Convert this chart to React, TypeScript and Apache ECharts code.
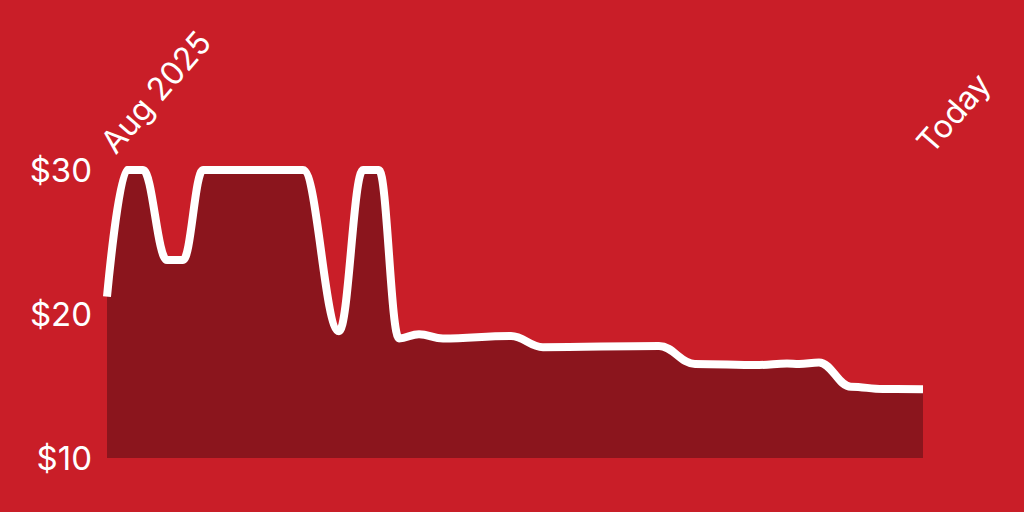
import { useEffect, useRef } from "react";
import * as echarts from "echarts";

const DAYS = [0, 5, 9, 15, 19, 24, 49, 58, 64, 68, 73, 78, 84, 101, 109, 138, 147, 163, 170, 173, 178, 186, 194, 204];
const PRICES = [21.2, 30, 30, 23.75, 23.75, 30, 30, 18.8, 30, 30, 18.3, 18.6, 18.3, 18.47, 17.69, 17.78, 16.53, 16.46, 16.57, 16.53, 16.64, 14.95, 14.79, 14.77];
const LAST_DAY = 204;
const X_LABELS = ["Aug 2025", "Today"];
const Y_MIN = 10;
const Y_MAX = 30;
const Y_STEP = 10;

const FONT = "Inter, 'Liberation Sans', sans-serif";

export default function App() {
    const chartRef = useRef<HTMLDivElement>(null);

    useEffect(() => {
        if (!chartRef.current) return;
        const chart = echarts.init(chartRef.current, null, { renderer: "svg" });

        chart.setOption({
            animation: false,
            backgroundColor: "#C91E28",
            grid: { left: 107, right: 101, top: 170, bottom: 54 },
            xAxis: {
                type: "value",
                position: "top",
                min: 0,
                max: LAST_DAY,
                interval: LAST_DAY,
                axisLine: { show: false },
                axisTick: { show: false },
                splitLine: { show: false },
                axisLabel: {
                    rotate: -49,
                    margin: 22,
                    color: "#fff",
                    fontSize: 32,
                    fontFamily: FONT,
                    showMinLabel: true,
                    showMaxLabel: true,
                    formatter: (v: number) => (v === 0 ? X_LABELS[0] : X_LABELS[1]),
                },
            },
            yAxis: {
                type: "value",
                min: Y_MIN,
                max: Y_MAX,
                interval: Y_STEP,
                axisLine: { show: false },
                axisTick: { show: false },
                splitLine: { show: false },
                axisLabel: {
                    margin: 15,
                    color: "#fff",
                    fontSize: 33,
                    fontFamily: FONT,
                    formatter: (v: number) => `$${v}`,
                },
            },
            series: [
                {
                    type: "line",
                    data: DAYS.map((d, i) => [d, PRICES[i]]),
                    smooth: 0.4,
                    smoothMonotone: "x",
                    symbol: "none",
                    clip: false,
                    lineStyle: { color: "#fff", width: 8 },
                    areaStyle: { color: "#8B151D", opacity: 1 },
                },
            ],
        });

        return () => chart.dispose();
    }, []);

    return (
        <div
            ref={chartRef}
            style={{ position: "fixed", left: 0, top: 0, width: 1024, height: 512 }}
        />
    );
}
